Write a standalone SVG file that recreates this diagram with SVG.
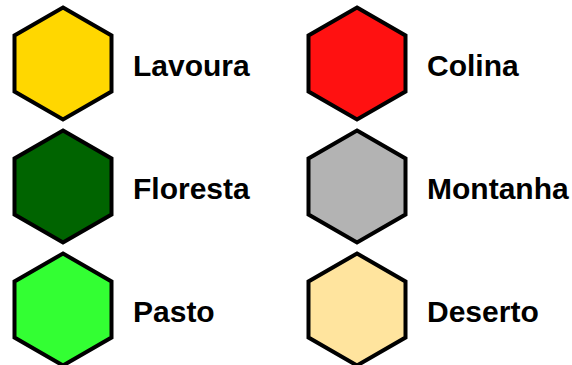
<svg xmlns="http://www.w3.org/2000/svg" width="572" height="365" viewBox="0 0 572 365">
<defs>
<style>
.hex{stroke:#000;stroke-width:4;stroke-linejoin:miter}
.lbl{font-family:"Liberation Sans",Arial,sans-serif;font-weight:bold;font-size:30px;fill:#000}
</style>
<polygon id="h" points="0,-56 48.5,-28 48.5,28 0,56 -48.5,28 -48.5,-28"/>
</defs>
<rect width="572" height="365" fill="#fff"/>
<g id="lavoura"><use href="#h" class="hex" x="63" y="63.5" fill="#FFD700"/><text class="lbl" x="133" y="76">Lavoura</text></g>
<g id="floresta"><use href="#h" class="hex" x="63" y="186.5" fill="#006400"/><text class="lbl" x="133" y="199">Floresta</text></g>
<g id="pasto"><use href="#h" class="hex" x="63" y="309.5" fill="#33FF33"/><text class="lbl" x="133" y="322">Pasto</text></g>
<g id="colina"><use href="#h" class="hex" x="357" y="63.5" fill="#FF1111"/><text class="lbl" x="427" y="76">Colina</text></g>
<g id="montanha"><use href="#h" class="hex" x="357" y="186.5" fill="#B3B3B3"/><text class="lbl" x="427" y="199">Montanha</text></g>
<g id="deserto"><use href="#h" class="hex" x="357" y="309.5" fill="#FFE49E"/><text class="lbl" x="427" y="322">Deserto</text></g>
</svg>
